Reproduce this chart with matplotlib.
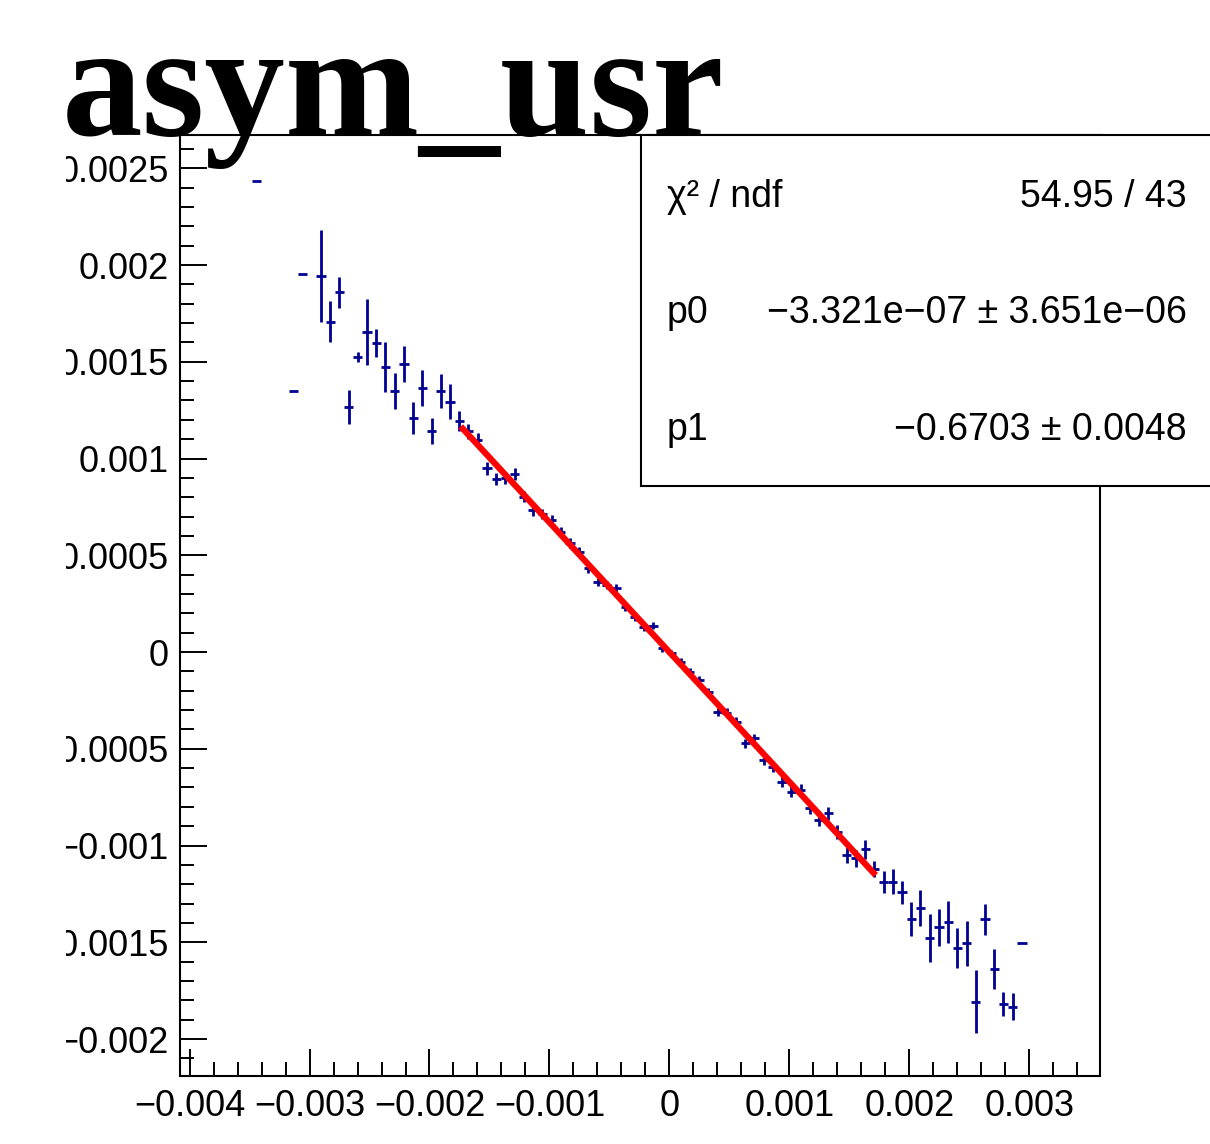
import numpy as np
import matplotlib
matplotlib.use("Agg")
import matplotlib.pyplot as plt
from matplotlib.ticker import MultipleLocator, FuncFormatter
from matplotlib.patches import Rectangle
from matplotlib.transforms import Bbox, TransformedBbox

plt.rcParams['font.family'] = ['Liberation Sans', 'DejaVu Sans']

# profile bins (units of 1e-3)
x_vals = [-3.4435, -3.1359, -3.0590, -2.9052, -2.8283, -2.7514, -2.6745, -2.5976,
          -2.5207, -2.4438, -2.3669, -2.2900, -2.2131, -2.1362, -2.0593, -1.9824,
          -1.9055, -1.8286, -1.7517, -1.6748, -1.5979, -1.5210, -1.4441, -1.3672,
          -1.2903, -1.2134, -1.1365, -1.0596, -0.9827, -0.9058, -0.8289, -0.7520,
          -0.6751, -0.5982, -0.5213, -0.4444, -0.3675, -0.2906, -0.2137, -0.1368,
          -0.0599, 0.0170, 0.0939, 0.1708, 0.2477, 0.3246, 0.4015, 0.4784,
          0.5553, 0.6322, 0.7091, 0.7860, 0.8629, 0.9398, 1.0167, 1.0936,
          1.1705, 1.2474, 1.3243, 1.4012, 1.4781, 1.5550, 1.6319, 1.7088,
          1.7857, 1.8626, 1.9395, 2.0164, 2.0933, 2.1702, 2.2471, 2.3240,
          2.4009, 2.4778, 2.5547, 2.6316, 2.7085, 2.7854, 2.8623, 2.9392]
y_vals = [2.436, 1.350, 1.955, 1.942, 1.707, 1.859, 1.266, 1.526,
          1.652, 1.599, 1.473, 1.349, 1.487, 1.211, 1.363, 1.142,
          1.349, 1.294, 1.195, 1.140, 1.096, 0.949, 0.894, 0.899,
          0.918, 0.803, 0.734, 0.713, 0.682, 0.622, 0.562, 0.518,
          0.433, 0.362, 0.346, 0.329, 0.234, 0.182, 0.131, 0.137,
          0.019, -0.007, -0.050, -0.102, -0.145, -0.205, -0.309, -0.313,
          -0.360, -0.472, -0.446, -0.558, -0.593, -0.670, -0.722, -0.713,
          -0.808, -0.868, -0.834, -0.929, -1.049, -1.065, -1.020, -1.123,
          -1.187, -1.187, -1.242, -1.380, -1.325, -1.477, -1.423, -1.394,
          -1.531, -1.505, -1.807, -1.380, -1.640, -1.819, -1.833, -1.505]
y_errs = [0.0, 0.0, 0.0, 0.238, 0.106, 0.080, 0.088, 0.026,
          0.171, 0.072, 0.128, 0.093, 0.093, 0.083, 0.093, 0.067,
          0.088, 0.090, 0.053, 0.041, 0.035, 0.034, 0.033, 0.032,
          0.031, 0.030, 0.029, 0.028, 0.027, 0.026, 0.025, 0.024,
          0.024, 0.023, 0.022, 0.022, 0.021, 0.021, 0.020, 0.020,
          0.020, 0.020, 0.020, 0.020, 0.021, 0.021, 0.022, 0.022,
          0.023, 0.024, 0.024, 0.025, 0.026, 0.027, 0.028, 0.029,
          0.030, 0.032, 0.034, 0.036, 0.040, 0.044, 0.050, 0.042,
          0.057, 0.066, 0.061, 0.088, 0.093, 0.123, 0.095, 0.109,
          0.103, 0.117, 0.164, 0.080, 0.103, 0.061, 0.069, 0.0]
bin_half = 0.0385

# pol1 fit
p0 = -3.321e-07
p1 = -0.6703
fit_range = (-1.74e-3, 1.72e-3)
stat_rows = [("\u03c7\u00b2 / ndf", "54.95 / 43"),
             ("p0", "\u22123.321e\u221207 \u00b1 3.651e\u221206"),
             ("p1", "\u22120.6703 \u00b1 0.0048")]

x = np.array(x_vals) * 1e-3
y = np.array(y_vals) * 1e-3
ey = np.array(y_errs) * 1e-3

W, H = 1210, 1144
fig = plt.figure(figsize=(W / 100, H / 100), dpi=100)
ax = fig.add_axes([180 / W, 1 - 1076 / H, 920 / W, (1076 - 135) / H])

ax.errorbar(x, y, xerr=bin_half * 1e-3, yerr=ey, fmt='none', ecolor='#000092',
            elinewidth=2.0, capsize=0, zorder=2)

xf = np.linspace(fit_range[0], fit_range[1], 100)
ax.plot(xf, p0 + p1 * xf, color='#ff0000', lw=4.5, zorder=3, solid_capstyle='butt')

ax.set_xlim(-0.00408, 0.00359)
ax.set_ylim(-0.002191, 0.002672)

def fmt(v, pos):
    v = round(v, 7)
    if v == 0:
        return '0'
    return ('%g' % v).replace('-', '\u2212')

ax.xaxis.set_major_locator(MultipleLocator(0.001))
ax.xaxis.set_minor_locator(MultipleLocator(0.0002))
ax.yaxis.set_major_locator(MultipleLocator(0.0005))
ax.yaxis.set_minor_locator(MultipleLocator(0.0001))
ax.xaxis.set_major_formatter(FuncFormatter(fmt))
ax.yaxis.set_major_formatter(FuncFormatter(fmt))
ax.tick_params(which='both', direction='in', top=False, right=False, width=1.4,
               labelsize=26)
ax.tick_params(which='major', length=19.5)
ax.tick_params(which='minor', length=10)
ax.tick_params(axis='y', pad=8)
ax.tick_params(axis='x', pad=9)
for sp in ax.spines.values():
    sp.set_linewidth(1.5)

# stats box
fig.add_artist(Rectangle((641 / W, 1 - 486 / H), 1.0, (486 - 135) / H,
                         transform=fig.transFigure, fc='white', ec='black',
                         lw=1.5, zorder=5))
row_y = [207, 323, 440]
for (lab, val), ry in zip(stat_rows, row_y):
    fig.text(667 / W, 1 - ry / H, lab, fontsize=27, ha='left', va='baseline', zorder=6)
    fig.text(1187 / W, 1 - ry / H, val, fontsize=27, ha='right', va='baseline', zorder=6)

fig.text(62 / W, 1 - 135 / H, 'asym_usr', fontsize=116, family='Liberation Serif',
         weight='bold', ha='left', va='baseline', zorder=7)

# y labels are cut off by the pad edge on the left
fig.canvas.draw()
clip = TransformedBbox(Bbox([[66 / W, 0], [1, 1]]), fig.transFigure)
for lab in ax.get_yticklabels():
    lab.set_clip_box(clip)
    lab.set_clip_on(True)

fig.savefig('out.png', dpi=100)
